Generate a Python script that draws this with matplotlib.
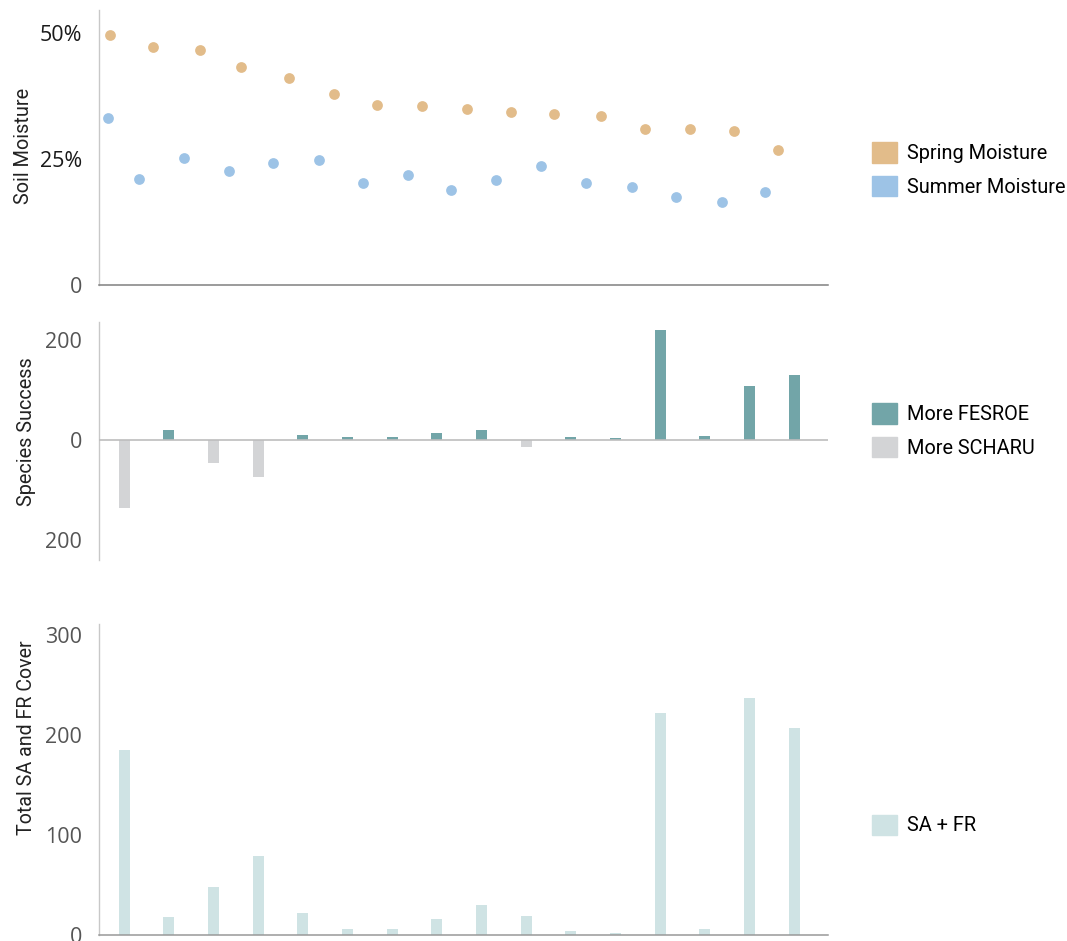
import matplotlib.pyplot as plt
from matplotlib.patches import Patch

# --- data ------------------------------------------------------------------
# site index 0..15 along the transect, moisture dots sit slightly off the bars
spring_pos = [-0.32, 0.65, 1.70, 2.62, 3.70, 4.69, 5.66, 6.66,
              7.67, 8.66, 9.62, 10.68, 11.66, 12.66, 13.66, 14.65]
spring_moisture = [49.6, 47.3, 46.6, 43.3, 41.1, 38.0, 35.7, 35.5,
                   35.0, 34.4, 33.9, 33.5, 31.0, 30.9, 30.5, 26.9]
summer_pos = [-0.36, 0.34, 1.34, 2.35, 3.33, 4.36, 5.34, 6.36,
              7.32, 8.32, 9.34, 10.34, 11.36, 12.35, 13.38, 14.35]
summer_moisture = [33.1, 21.0, 25.3, 22.6, 24.3, 24.9, 20.2, 21.8,
                   18.9, 20.8, 23.6, 20.2, 19.4, 17.5, 16.5, 18.5]

sites = list(range(16))
# positive = more FESROE, negative = more SCHARU
species_success = [-136, 19, -46, -74, 9, 5, 5, 14,
                   20, -15, 5, 3, 220, 7, 107, 130]
sa_fr_cover = [185, 18, 48, 79, 22, 6, 6, 16,
               30, 19, 4, 2, 222, 6, 237, 207]

spring_col = "#E2BC8A"
summer_col = "#9DC3E6"
fesroe_col = "#72A5A8"
scharu_col = "#D3D4D6"
cover_col = "#CFE3E4"

W, H = 1067, 941
fig = plt.figure(figsize=(W / 100, H / 100), dpi=100)

# no condensed face available, Roboto at a smaller size gets the same text lengths
label_font = ["Roboto", "DejaVu Sans"]
label_size = 14.3
tick_font = ["Open Sans", "DejaVu Sans"]


def px_axes(left, top, right, bottom):
    return fig.add_axes([left / W, 1 - bottom / H, (right - left) / W, (bottom - top) / H])


def style(ax, ylabel, label_xy, size=label_size):
    for s in ("top", "right"):
        ax.spines[s].set_visible(False)
    ax.spines["left"].set_color("#C8C8C8")
    ax.spines["left"].set_linewidth(1.0)
    ax.set_xticks([])
    ax.set_xlim(-0.565, 15.76)
    ax.tick_params(axis="y", length=0, pad=12, labelsize=15.5, labelcolor="#555555")
    for t in ax.get_yticklabels():
        t.set_fontfamily(tick_font)
    ax.set_ylabel(ylabel, fontsize=size, family=label_font, color="#222222")
    ax.yaxis.set_label_coords(label_xy[0] / W, 1 - label_xy[1] / H, transform=fig.transFigure)


def legend(ax, handles, y_center):
    ax.legend(handles=handles, loc="center left", frameon=False,
              bbox_to_anchor=(872 / W, 1 - y_center / H), bbox_transform=fig.transFigure,
              borderpad=0, borderaxespad=0, handlelength=1.26, handleheight=1.2,
              handletextpad=0.5, labelspacing=0.65,
              prop={"family": label_font, "size": label_size})


# --- top: soil moisture -----------------------------------------------------
ax1 = px_axes(99, 10, 828, 285)
ax1.scatter(spring_pos, spring_moisture, s=60, color=spring_col, linewidths=0, zorder=3)
ax1.scatter(summer_pos, summer_moisture, s=60, color=summer_col, linewidths=0, zorder=3)
ax1.set_ylim(0, 54.6)
ax1.set_yticks([0, 25, 50])
ax1.set_yticklabels(["0", "25%", "50%"])
style(ax1, "Soil Moisture", (33, 146))
ax1.spines["bottom"].set_color("#808080")
ax1.spines["bottom"].set_linewidth(1.1)
for t in ax1.get_yticklabels()[1:]:
    t.set_color("#1A1A1A")
legend(ax1, [Patch(color=spring_col, label="Spring Moisture"),
             Patch(color=summer_col, label="Summer Moisture")], 169.5)

# --- middle: species success -----------------------------------------------
ax2 = px_axes(99, 321.7, 828, 560)
bar_cols = [fesroe_col if v >= 0 else scharu_col for v in species_success]
ax2.bar(sites, species_success, width=0.246, color=bar_cols, zorder=2)
ax2.axhline(0, color="#BDBDBD", lw=1.2, zorder=3)
ax2.set_ylim(-241, 235.6)
ax2.set_yticks([-200, 0, 200])
ax2.set_yticklabels(["200", "0", "200"])
style(ax2, "Species Success", (36, 432))
ax2.spines["bottom"].set_visible(False)
legend(ax2, [Patch(color=fesroe_col, label="More FESROE"),
             Patch(color=scharu_col, label="More SCHARU")], 430.5)

# --- bottom: total cover ----------------------------------------------------
ax3 = px_axes(99, 624, 828, 935)
ax3.bar(sites, sa_fr_cover, width=0.246, color=cover_col, zorder=2)
ax3.set_ylim(0, 311)
ax3.set_yticks([0, 100, 200, 300])
style(ax3, "Total SA and FR Cover", (36, 738), size=14.1)
ax3.spines["bottom"].set_color("#999999")
ax3.spines["bottom"].set_linewidth(1.1)
legend(ax3, [Patch(color=cover_col, label="SA + FR")], 825)

fig.savefig("out.png", dpi=100)
